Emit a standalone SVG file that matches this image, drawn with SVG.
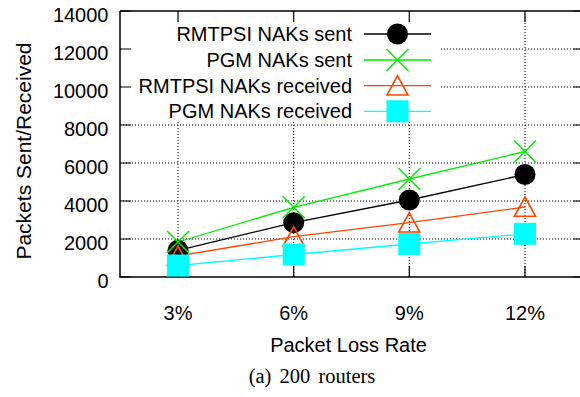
<svg xmlns="http://www.w3.org/2000/svg" width="580" height="397" viewBox="0 0 580 397">
  <style>
    .lbl { font-family: "Liberation Sans", Arial, Helvetica, sans-serif; font-size: 20px; fill: #000; }
    .cap { font-family: "Liberation Serif", "Times New Roman", serif; font-size: 20.5px; word-spacing: 3px; fill: #000; }
    .grid { stroke: #000; stroke-width: 1; stroke-dasharray: 1 2; fill: none; }
    .axis { stroke: #000; stroke-width: 1.5; fill: none; }
    .tick { stroke: #000; stroke-width: 1.2; fill: none; }
    .s-black { stroke: #000; stroke-width: 1.3; fill: none; }
    .s-green { stroke: #00ee00; stroke-width: 1.3; fill: none; }
    .s-orange { stroke: #ff4500; stroke-width: 1.3; fill: none; }
    .s-cyan { stroke: #00ffff; stroke-width: 1.3; fill: none; }
  </style>
  <defs>
    <circle id="m-circle" r="10.5" fill="#000"/>
    <path id="m-cross" d="M-11,-11 L11,11 M-11,11 L11,-11" stroke="#00ee00" stroke-width="1.5" fill="none"/>
    <path id="m-tri" d="M0,-10 L10.5,9.3 L-10.5,9.3 Z" stroke="#ff4500" stroke-width="1.6" fill="none"/>
    <rect id="m-square" x="-11" y="-11" width="22" height="22" fill="#00ffff"/>
  </defs>
  <rect width="580" height="397" fill="#fff"/>

  <!-- dotted grid -->
  <g id="grid" class="grid">
    <path d="M120,49H584M120,87H584M120,125H584M120,163H584M120,201H584M120,239H584"/>
    <path d="M178,11V277M293.7,11V277M409.3,11V277M525,11V277"/>
  </g>

  <!-- key background hides the grid behind it -->
  <rect x="121" y="12" width="319" height="110" fill="#fff"/>

  <!-- frame and ticks -->
  <g id="axes">
    <path class="axis" d="M120,11V277H584M120,11H584"/>
    <path class="tick" d="M120,11h11M120,49h11M120,87h11M120,125h11M120,163h11M120,201h11M120,239h11M120,277h11"/>
    <path class="tick" d="M584,11h-11M584,49h-11M584,87h-11M584,125h-11M584,163h-11M584,201h-11M584,239h-11M584,277h-11"/>
    <path class="tick" d="M178,277v-11M293.7,277v-11M409.3,277v-11M525,277v-11"/>
    <path class="tick" d="M178,11v11M293.7,11v11M409.3,11v11M525,11v11"/>
  </g>

  <!-- y tick labels -->
  <g id="ytick-labels" class="lbl" text-anchor="end">
    <text x="108.5" y="22">14000</text>
    <text x="108.5" y="60">12000</text>
    <text x="108.5" y="98">10000</text>
    <text x="108.5" y="136">8000</text>
    <text x="108.5" y="174">6000</text>
    <text x="108.5" y="212">4000</text>
    <text x="108.5" y="250">2000</text>
    <text x="108.5" y="288">0</text>
  </g>

  <!-- x tick labels -->
  <g id="xtick-labels" class="lbl" text-anchor="middle">
    <text x="178" y="319.5">3%</text>
    <text x="293.7" y="319.5">6%</text>
    <text x="409.3" y="319.5">9%</text>
    <text x="525" y="319.5">12%</text>
  </g>

  <!-- axis titles and caption -->
  <g id="titles">
    <text class="lbl" text-anchor="middle" style="font-size:21px" transform="translate(30.5,151) rotate(-90)">Packets Sent/Received</text>
    <text class="lbl" text-anchor="middle" x="348.5" y="352">Packet Loss Rate</text>
    <text class="cap" text-anchor="middle" x="312" y="383">(a) 200 routers</text>
  </g>

  <!-- key -->
  <g id="legend">
    <g id="key-rmtpsi-sent">
      <text class="lbl" text-anchor="end" x="352" y="41">RMTPSI NAKs sent</text>
      <path class="s-black" d="M364,34H431"/>
      <use href="#m-circle" x="397.5" y="34"/>
    </g>
    <g id="key-pgm-sent">
      <text class="lbl" text-anchor="end" x="352" y="67">PGM NAKs sent</text>
      <path class="s-green" d="M364,60H431"/>
      <use href="#m-cross" x="397.5" y="60"/>
    </g>
    <g id="key-rmtpsi-recv">
      <text class="lbl" text-anchor="end" x="352" y="92.7">RMTPSI NAKs received</text>
      <path class="s-orange" d="M364,85.7H431"/>
      <use href="#m-tri" x="397.5" y="85.7"/>
    </g>
    <g id="key-pgm-recv">
      <text class="lbl" text-anchor="end" x="352" y="118.3">PGM NAKs received</text>
      <path class="s-cyan" d="M364,111.3H431"/>
      <use href="#m-square" x="397.5" y="111.3"/>
    </g>
  </g>

  <!-- data series -->
  <g id="connectors">
    <polyline id="line-rmtpsi-sent" class="s-black" points="178,250.3 293.7,222.7 409.3,200 525,174.5"/>
    <polyline id="line-pgm-sent" class="s-green" points="178,242 293.7,207.3 409.3,179 525,151.5"/>
    <polyline id="line-rmtpsi-recv" class="s-orange" points="178,256 293.7,236.7 409.3,222.7 525,207"/>
    <polyline id="line-pgm-recv" class="s-cyan" points="178,265.5 293.7,254.5 409.3,244 525,233.8"/>
  </g>

  <g id="points-rmtpsi-sent">
    <use href="#m-circle" x="178" y="250.3"/>
    <use href="#m-circle" x="293.7" y="222.7"/>
    <use href="#m-circle" x="409.3" y="200"/>
    <use href="#m-circle" x="525" y="174.5"/>
  </g>
  <g id="points-pgm-sent">
    <use href="#m-cross" x="178" y="242"/>
    <use href="#m-cross" x="293.7" y="207.3"/>
    <use href="#m-cross" x="409.3" y="179"/>
    <use href="#m-cross" x="525" y="151.5"/>
  </g>
  <g id="points-rmtpsi-recv">
    <use href="#m-tri" x="178" y="256"/>
    <use href="#m-tri" x="293.7" y="236.7"/>
    <use href="#m-tri" x="409.3" y="222.7"/>
    <use href="#m-tri" x="525" y="207"/>
  </g>
  <g id="points-pgm-recv">
    <use href="#m-square" x="178" y="265.5"/>
    <use href="#m-square" x="293.7" y="254.5"/>
    <use href="#m-square" x="409.3" y="244"/>
    <use href="#m-square" x="525" y="233.8"/>
  </g>
</svg>
